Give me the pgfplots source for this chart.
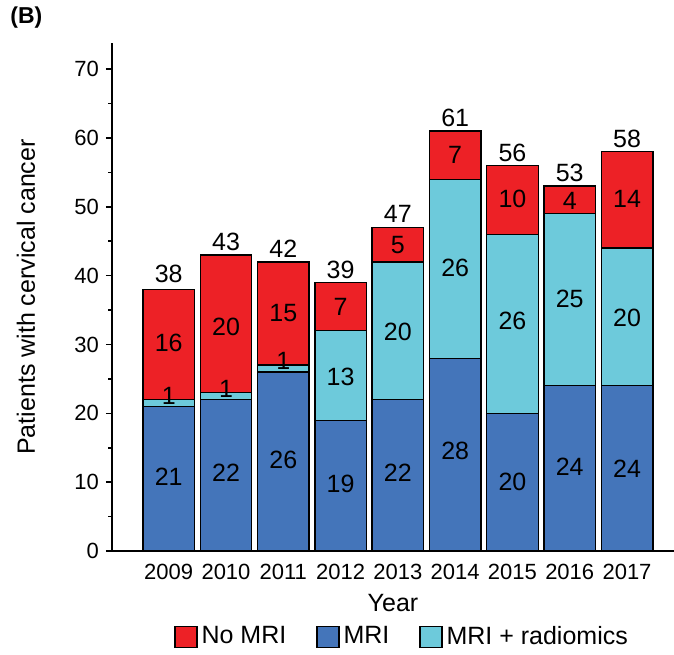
\documentclass[border=0pt]{standalone}
\usepackage{pgfplots}
\pgfplotsset{compat=1.18}
\usepackage{pgfplotstable}
\usepackage{fontspec}
\setmainfont{Liberation Sans}
\definecolor{nomri}{RGB}{237,33,38}
\definecolor{mri}{RGB}{68,117,186}
\definecolor{mrirad}{RGB}{109,202,219}
\pgfplotsset{sqlegend/.style={legend image code/.code={\draw[##1] (0pt,-5.25pt) rectangle (11pt,5.25pt);}}}

\pgfplotstableread{
x mri rad no
0 21 1 16
1 22 1 20
2 26 1 15
3 19 13 7
4 22 20 5
5 28 26 7
6 20 26 10
7 24 25 4
8 24 20 14
}\bars

\pgfplotstableread{
x y lab
0 10.8 21
0 22.6 1
0 30.2 16
0 40.3 38
1 11.4 22
1 23.6 1
1 32.5 20
1 44.9 43
2 13.2 26
2 27.6 1
2 34.5 15
2 43.9 42
3 9.7 19
3 25.3 13
3 35.5 7
3 40.9 39
4 11.3 22
4 31.9 20
4 44.5 5
4 48.9 47
5 14.5 28
5 41.2 26
5 57.5 7
5 62.9 61
6 10.0 20
6 33.5 26
6 51.2 10
6 57.9 56
7 12.2 24
7 36.6 25
7 50.8 4
7 54.9 53
8 12.0 24
8 33.8 20
8 51.1 14
8 59.9 58
}\labels

\begin{document}
\begin{tikzpicture}
\begin{axis}[
  name=ax,
  scale only axis,
  width=281pt, height=254pt,
  xmin=-0.99, xmax=8.82,
  ymin=0, ymax=73.8,
  axis lines*=left,
  axis line style={line width=0.75pt},
  ybar stacked,
  bar width=0.9,
  xtick={0,...,8},
  xticklabels={2009,2010,2011,2012,2013,2014,2015,2016,2017},
  major x tick style={draw=none},
  ytick={0,10,...,70},
  minor y tick num=1,
  tick align=outside,
  major tick length=3pt,
  minor tick length=1.8pt,
  y tick style={line width=0.75pt, black},
  ticklabel style={font=\fontsize{11}{13}\selectfont},
  /pgf/number format/assume math mode=true,
  xlabel={Year},
  ylabel={Patients with cervical cancer},
  label style={font=\fontsize{12.5}{15}\selectfont},
  xlabel style={at={(axis description cs:0.5,-0.1024)}, anchor=center},
  ylabel style={at={(axis description cs:-0.1530,0.5)}, anchor=center},
  legend columns=3,
  legend style={draw=none, fill=none, at={(axis description cs:0.518,-0.169)}, anchor=center,
    font=\fontsize{12.5}{15}\selectfont,
    /tikz/every even column/.append style={column sep=13pt}},
  legend cell align=left,
]
\addlegendimage{sqlegend, fill=nomri, draw=black, line width=0.6pt}
\addlegendentry{No MRI}
\addlegendimage{sqlegend, fill=mri, draw=black, line width=0.6pt}
\addlegendentry{MRI}
\addlegendimage{sqlegend, fill=mrirad, draw=black, line width=0.6pt}
\addlegendentry{MRI + radiomics}
\addplot+[forget plot, fill=mri, draw=black, line width=0.7pt] table[x=x, y=mri] {\bars};
\addplot+[forget plot, fill=mrirad, draw=black, line width=0.7pt] table[x=x, y=rad] {\bars};
\addplot+[forget plot, fill=nomri, draw=black, line width=0.7pt] table[x=x, y=no] {\bars};
\end{axis}
\begin{axis}[
  scale only axis,
  width=281pt, height=254pt,
  xmin=-0.99, xmax=8.82,
  ymin=0, ymax=73.8,
  hide axis,
]
\addplot[draw=none, mark=none, nodes near coords, point meta=explicit symbolic,
  nodes near coords style={anchor=center, inner sep=0pt, font=\fontsize{12.5}{15}\selectfont, text=black}]
  table[x=x, y=y, meta=lab] {\labels};
\end{axis}
\node[anchor=west, inner sep=0pt, font=\bfseries\fontsize{11.5}{14}\selectfont] at ([xshift=-51pt, yshift=12.5pt]ax.north west) {(B)};
\pgfresetboundingbox
\path[use as bounding box] ([xshift=-56pt, yshift=-51.5pt]ax.south west) rectangle ([yshift=21.5pt]ax.north east);
\end{tikzpicture}
\end{document}
